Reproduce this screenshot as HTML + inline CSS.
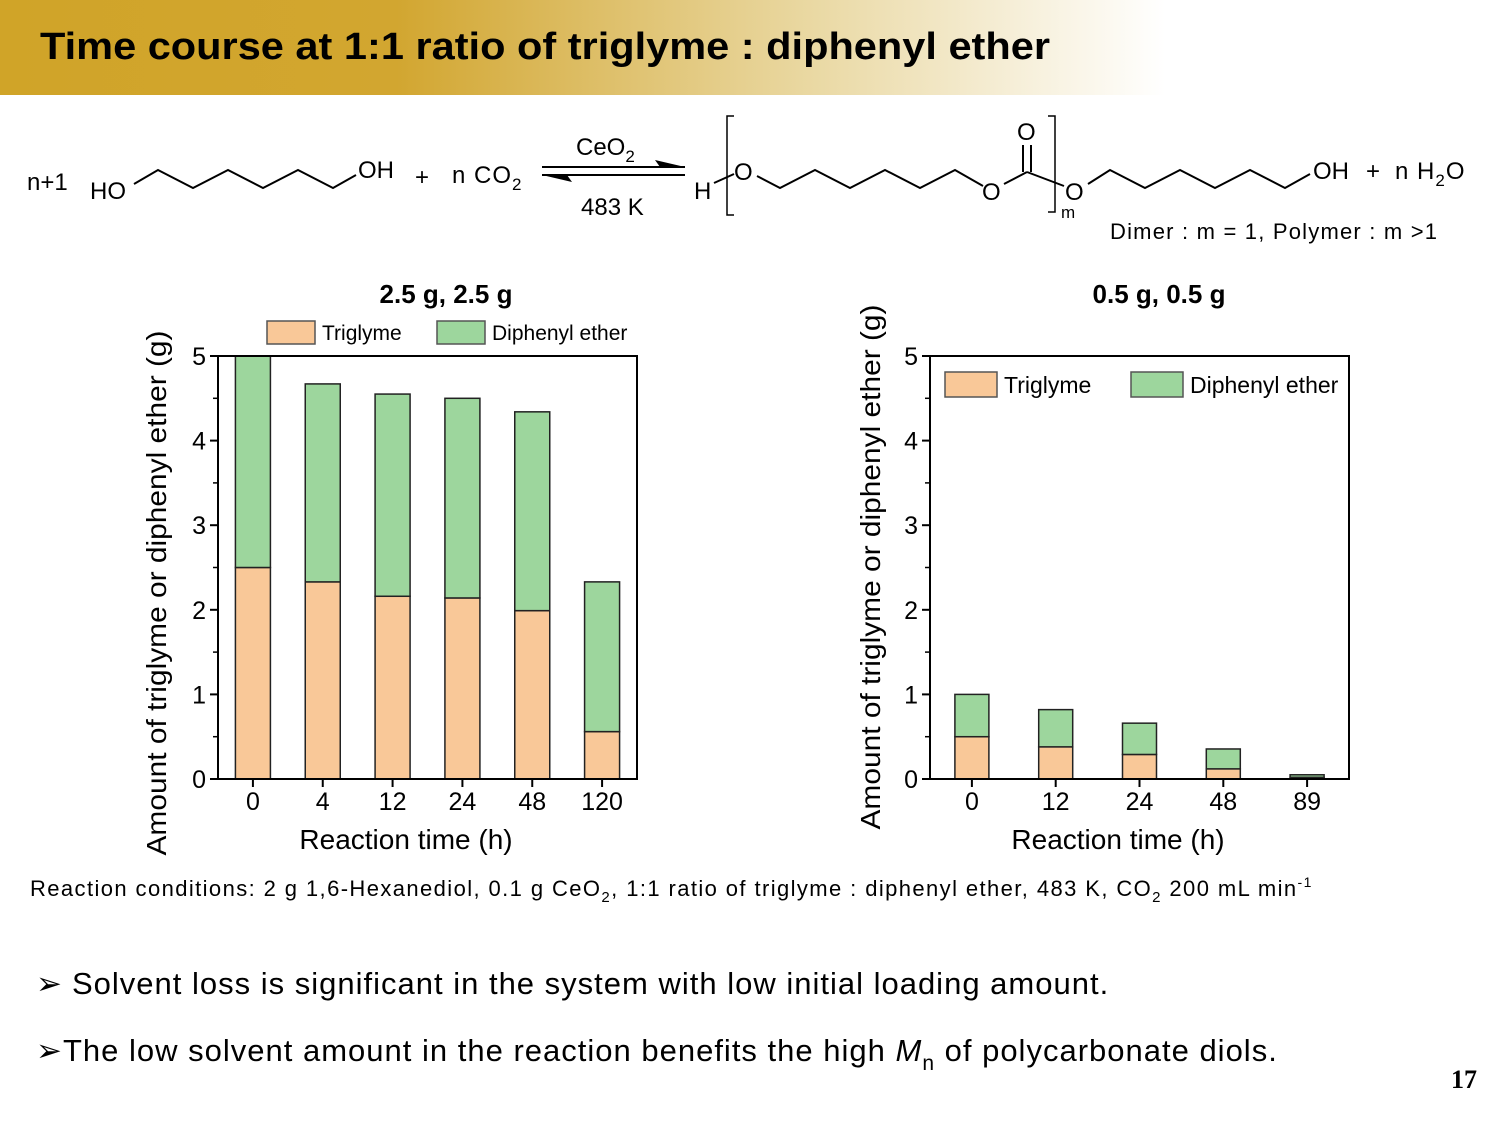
<!DOCTYPE html>
<html><head><meta charset="utf-8">
<style>
html,body{margin:0;padding:0;background:#fff;}
svg{display:block;font-family:"Liberation Sans",Arial,sans-serif;}
</style></head>
<body>
<svg id="page" width="1500" height="1125" viewBox="0 0 1500 1125" xmlns="http://www.w3.org/2000/svg">
<defs>
<linearGradient id="hdr" x1="0" y1="0" x2="1165" y2="0" gradientUnits="userSpaceOnUse">
<stop offset="0" stop-color="#d0a428"/><stop offset="0.34" stop-color="#d2a630"/>
<stop offset="0.7" stop-color="#ead9a4"/><stop offset="1" stop-color="#ffffff"/>
</linearGradient>
</defs>
<rect x="0" y="0" width="1500" height="95" fill="url(#hdr)"/>
<text x="40" y="59" font-size="38" font-weight="bold" textLength="1010" lengthAdjust="spacingAndGlyphs">Time course at 1:1 ratio of triglyme : diphenyl ether</text>

<g font-size="24" fill="#000">
<text x="27" y="190">n+1</text>
<text x="90" y="199">HO</text>
<polyline points="134,184 158,170 193,188 228,170 263,188 298,170 333,188 356,175" fill="none" stroke="#000" stroke-width="2"/>
<text x="358" y="178">OH</text>
<text x="415" y="185">+</text>
<text x="452" y="183" letter-spacing="1">n CO<tspan font-size="17" dy="7">2</tspan></text>
<line x1="542" y1="167" x2="685" y2="167" stroke="#000" stroke-width="2"/>
<polygon points="685,167 655,160 660,167" fill="#000"/>
<line x1="542" y1="175" x2="685" y2="175" stroke="#000" stroke-width="2"/>
<polygon points="542,175 572,182 567,175" fill="#000"/>
<text x="576" y="155">CeO<tspan font-size="17" dy="7">2</tspan></text>
<text x="581" y="215">483 K</text>
<text x="694" y="199">H</text>
<polyline points="734,116 727,116 727,215 734,215" fill="none" stroke="#000" stroke-width="1.5"/>
<line x1="714" y1="183" x2="734" y2="174" stroke="#000" stroke-width="2"/>
<text x="734" y="180">O</text>
<polyline points="757,176 780,188 815,170 850,188 885,170 920,188 955,170 983,186" fill="none" stroke="#000" stroke-width="2"/>
<text x="982" y="200">O</text>
<line x1="1004" y1="184" x2="1027" y2="172" stroke="#000" stroke-width="2"/>
<line x1="1023" y1="172" x2="1023" y2="145" stroke="#000" stroke-width="2"/>
<line x1="1031" y1="172" x2="1031" y2="145" stroke="#000" stroke-width="2"/>
<text x="1017" y="140">O</text>
<line x1="1027" y1="172" x2="1064" y2="186" stroke="#000" stroke-width="2"/>
<polyline points="1048,116 1055,116 1055,212 1048,212" fill="none" stroke="#000" stroke-width="1.5"/>
<text x="1061" y="218" font-size="17">m</text>
<text x="1065" y="200">O</text>
<polyline points="1088,184 1110,170 1145,188 1180,170 1215,188 1250,170 1285,188 1310,174" fill="none" stroke="#000" stroke-width="2"/>
<text x="1313" y="179">OH</text>
<text x="1366" y="179">+</text>
<text x="1395" y="179" letter-spacing="1">n H<tspan font-size="17" dy="7">2</tspan><tspan dy="-7">O</tspan></text>
<text x="1110" y="239" font-size="22" letter-spacing="1.2">Dimer : m = 1, Polymer : m &gt;1</text>
</g>

<g id="chartL"></g>
<g id="chartR"></g>

<text x="30" y="896" font-size="22" letter-spacing="1.4">Reaction conditions: 2 g 1,6-Hexanediol, 0.1 g CeO<tspan font-size="15" dy="6">2</tspan><tspan dy="-6">,  1:1 ratio of triglyme : diphenyl ether, 483 K, CO</tspan><tspan font-size="15" dy="6">2</tspan><tspan dy="-6"> 200 mL min</tspan><tspan font-size="14" dy="-9">-1</tspan></text>
<text x="36" y="994" font-size="31" letter-spacing="1">➢ <tspan x="72">Solvent loss is significant in the system with low initial loading amount.</tspan></text>
<text x="36" y="1061" font-size="31" letter-spacing="1">➢<tspan x="63">The low solvent amount in the reaction benefits the high </tspan><tspan font-style="italic">M</tspan><tspan font-size="21" dy="9">n</tspan><tspan dy="-9"> of polycarbonate diols.</tspan></text>
<text x="1451" y="1088" font-size="26" font-weight="bold" font-family="Liberation Serif,serif">17</text>
</svg>
<script>
const leftCats = ["0","4","12","24","48","120"];
const leftTriglyme = [2.5, 2.33, 2.16, 2.14, 1.99, 0.56];
const leftDiphenyl = [2.5, 2.34, 2.39, 2.36, 2.35, 1.77];
const rightCats = ["0","12","24","48","89"];
const rightTriglyme = [0.5, 0.38, 0.29, 0.12, 0.02];
const rightDiphenyl = [0.5, 0.44, 0.37, 0.235, 0.03];
const yTicks = [0,1,2,3,4,5];

const NS = "http://www.w3.org/2000/svg";
function mk(tag, attrs, parent, txt){
  const e = document.createElementNS(NS, tag);
  for (const k in attrs) e.setAttribute(k, attrs[k]);
  if (txt !== undefined) e.textContent = txt;
  parent.appendChild(e);
  return e;
}
function drawChart(g, cfg){
  const {x0,x1,y0,y1,cats,tri,dip,title,barW} = cfg;
  const yS = v => y0 - (v/5)*(y0-y1);
  const step = (x1-x0)/cats.length;
  const xS = i => x0 + step*(i+0.5);
  cats.forEach((c,i)=>{
    const t = mk("rect",{x:xS(i)-barW/2,y:yS(tri[i]),width:barW,height:y0-yS(tri[i]),fill:"#f9c898",stroke:"#222","stroke-width":1.5},g);
    
    
    const d = mk("rect",{x:xS(i)-barW/2,y:yS(tri[i]+dip[i]),width:barW,height:yS(tri[i])-yS(tri[i]+dip[i]),fill:"#9dd69d",stroke:"#222","stroke-width":1.5},g);
    
    
  });
  mk("rect",{x:x0,y:y1,width:x1-x0,height:y0-y1,fill:"none",stroke:"#000","stroke-width":2},g);
  yTicks.forEach(v=>{
    mk("line",{x1:x0-8,x2:x0,y1:yS(v),y2:yS(v),stroke:"#000","stroke-width":2},g);
    if (v<5) mk("line",{x1:x0-5,x2:x0,y1:yS(v+0.5),y2:yS(v+0.5),stroke:"#000","stroke-width":1.5},g);
    const tl = mk("text",{x:x0-12,y:yS(v)+9,"font-size":25,"text-anchor":"end"},g,String(v));
    
    
  });
  cats.forEach((c,i)=>{
    mk("line",{x1:xS(i),x2:xS(i),y1:y0,y2:y0+8,stroke:"#000","stroke-width":2},g);
    const tl = mk("text",{x:xS(i),y:y0+31,"font-size":25,"text-anchor":"middle"},g,c);
    
    
  });
  const xt = mk("text",{x:cfg.xtx,y:y0+70,"font-size":28,"text-anchor":"middle"},g,"Reaction time (h)");
  
  
  const yt = mk("text",{x:0,y:0,"font-size":28,"text-anchor":"middle",textLength:525,lengthAdjust:"spacingAndGlyphs",transform:`translate(${cfg.ytx},${cfg.yty}) rotate(-90)`},g,"Amount of triglyme or diphenyl ether (g)");
  
  
  const tt = mk("text",{x:cfg.tx,y:303,"font-size":26,"font-weight":"bold","text-anchor":"middle"},g,title);
  
  
  const L = cfg.legend;
  const s1 = mk("rect",{x:L.x1,y:L.y,width:L.w,height:L.h,fill:"#f9c898",stroke:"#555","stroke-width":1.5},g);
  
  
  const l1 = mk("text",{x:L.x1+L.w+7,y:L.y+L.h-4,"font-size":L.fs},g,"Triglyme");
  
  
  const s2 = mk("rect",{x:L.x2,y:L.y,width:L.w,height:L.h,fill:"#9dd69d",stroke:"#555","stroke-width":1.5},g);
  
  
  const l2 = mk("text",{x:L.x2+L.w+7,y:L.y+L.h-4,"font-size":L.fs},g,"Diphenyl ether");
  
  
}
drawChart(document.getElementById('chartL'),{x0:218,x1:637,y0:779,y1:356,cats:leftCats,tri:leftTriglyme,dip:leftDiphenyl,title:"2.5 g, 2.5 g",barW:35,ytx:166,yty:593,tx:446,xtx:406,
  legend:{x1:267,x2:437,y:321,w:48,h:23,fs:21}});
drawChart(document.getElementById('chartR'),{x0:930,x1:1349,y0:779,y1:356,cats:rightCats,tri:rightTriglyme,dip:rightDiphenyl,title:"0.5 g, 0.5 g",barW:34,ytx:880,yty:567,tx:1159,xtx:1118,
  legend:{x1:945,x2:1131,y:372,w:52,h:25,fs:23}});
</script>
</body></html>
